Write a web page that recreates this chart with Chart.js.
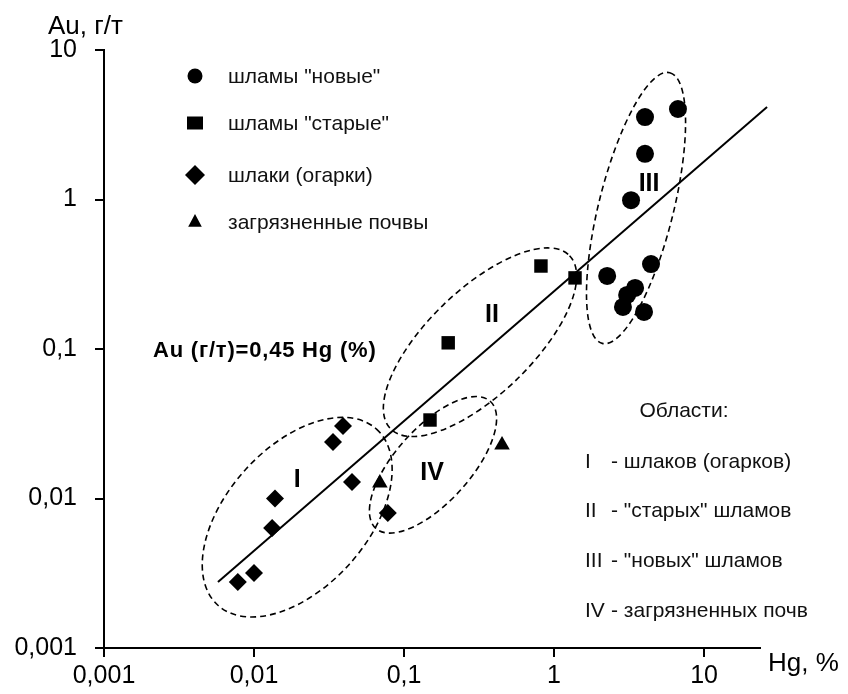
<!DOCTYPE html>
<html>
<head>
<meta charset="utf-8">
<script src="https://cdn.jsdelivr.net/npm/chart.js@4.4.1/dist/chart.umd.min.js"></script>
<style>
  html, body { margin: 0; padding: 0; background: #fff; }
  #chart { display: block; }
</style>
</head>
<body>
<canvas id="chart" width="848" height="694"></canvas>
<script>
// Hg, % (x) and Au, g/t (y)
const newSludgeHg = [4.04, 6.7, 4.04, 3.26, 2.26, 4.43, 3.47, 3.07, 2.88, 3.98];
const newSludgeAu = [3.56, 4.03, 2.02, 0.99, 0.308, 0.37, 0.256, 0.23, 0.191, 0.177];

const oldSludgeHg = [0.149, 0.197, 0.818, 1.38];
const oldSludgeAu = [0.0335, 0.11, 0.359, 0.299];

const slagHg = [0.0078, 0.01, 0.0132, 0.0138, 0.0336, 0.0392, 0.045, 0.078];
const slagAu = [0.00276, 0.00318, 0.00636, 0.01, 0.0239, 0.0305, 0.0129, 0.008];

const soilHg = [0.069, 0.45];
const soilAu = [0.0127, 0.0228];

// regression line end points
const fitHg = [0.00575, 26.3];
const fitAu = [0.00276, 4.16];

const tickValues = [0.001, 0.01, 0.1, 1, 10];

// dashed areas: centre (Hg, Au), semi-axes in decades, tilt in degrees
const areaNames = ['I', 'II', 'III', 'IV'];
const areaHg = [0.0194, 0.321, 3.52, 0.156];
const areaAu = [0.0075, 0.111, 0.877, 0.0168];
const areaMajor = [0.79, 0.83, 0.93, 0.57];
const areaMinor = [0.47, 0.35, 0.25, 0.25];
const areaTilt = [48, 44, 76, 48];
const areaLabelHg = [0.0194, 0.386, 4.3, 0.154];
const areaLabelAu = [0.0133, 0.169, 1.27, 0.0148];

const legendLabels = ['шламы "новые"', 'шламы "старые"', 'шлаки (огарки)', 'загрязненные почвы'];
const areaTitle = 'Области:';
const areaKey = ['- шлаков (огарков)', '- "старых" шламов', '- "новых" шламов', '- загрязненных почв'];

const FONT = '"Liberation Sans", Arial, sans-serif';

function toPoints(xs, ys) {
  return xs.map((x, i) => ({ x: x, y: ys[i] }));
}

function drawMarker(ctx, style, x, y, r) {
  ctx.beginPath();
  if (style === 'circle') {
    ctx.arc(x, y, r, 0, Math.PI * 2);
  } else if (style === 'rect') {
    ctx.rect(x - r * 0.8, y - r * 0.65, r * 1.6, r * 1.3);
  } else if (style === 'rectRot') {
    ctx.moveTo(x - r, y);
    ctx.lineTo(x, y - r);
    ctx.lineTo(x + r, y);
    ctx.lineTo(x, y + r);
  } else if (style === 'triangle') {
    ctx.moveTo(x, y - r);
    ctx.lineTo(x + r * 0.85, y + r * 0.6);
    ctx.lineTo(x - r * 0.85, y + r * 0.6);
  }
  ctx.closePath();
  ctx.fill();
}

const annotations = {
  id: 'annotations',
  beforeDatasetsDraw(chart) {
    const ctx = chart.ctx;
    const xs = chart.scales.x;
    const ys = chart.scales.y;
    const decX = xs.getPixelForValue(10) - xs.getPixelForValue(1);
    const decY = ys.getPixelForValue(1) - ys.getPixelForValue(10);

    ctx.save();
    ctx.strokeStyle = '#000';
    ctx.lineWidth = 1.6;
    ctx.setLineDash([6, 4]);
    areaNames.forEach((name, i) => {
      const cx = xs.getPixelForValue(areaHg[i]);
      const cy = ys.getPixelForValue(areaAu[i]);
      ctx.beginPath();
      ctx.ellipse(cx, cy, areaMajor[i] * decX, areaMinor[i] * decY, -areaTilt[i] * Math.PI / 180, 0, Math.PI * 2);
      ctx.stroke();
    });
    ctx.restore();
  },
  afterDraw(chart) {
    const ctx = chart.ctx;
    const xs = chart.scales.x;
    const ys = chart.scales.y;
    ctx.save();
    ctx.fillStyle = '#000';
    ctx.textBaseline = 'middle';

    // region numerals
    ctx.font = 'bold 25px ' + FONT;
    ctx.textAlign = 'center';
    areaNames.forEach((name, i) => {
      ctx.fillText(name, xs.getPixelForValue(areaLabelHg[i]), ys.getPixelForValue(areaLabelAu[i]));
    });

    // equation
    ctx.font = 'bold 22px ' + FONT;
    ctx.textAlign = 'left';
    ctx.letterSpacing = '0.8px';
    ctx.fillText('Au (г/т)=0,45 Hg (%)', 153, 351);
    ctx.letterSpacing = '0px';

    // axis titles
    ctx.font = '26px ' + FONT;
    ctx.fillText('Au, г/т', 48, 27);
    ctx.fillText('Hg, %', 768, 664);

    // legend
    const styles = ['circle', 'rect', 'rectRot', 'triangle'];
    const sizes = [7.5, 10, 10, 8];
    const rows = [76, 123, 175, 222];
    ctx.font = '21px ' + FONT;
    legendLabels.forEach((label, i) => {
      ctx.fillStyle = '#000';
      drawMarker(ctx, styles[i], 195, rows[i], sizes[i]);
      ctx.fillStyle = '#111';
      ctx.fillText(label, 228, rows[i] + 1);
    });

    // areas key
    ctx.textAlign = 'center';
    ctx.fillText(areaTitle, 684, 411);
    ctx.textAlign = 'left';
    const keyRows = [462, 511, 561, 611];
    areaKey.forEach((t, i) => {
      ctx.fillText(areaNames[i], 585, keyRows[i]);
      ctx.fillText(t, 611, keyRows[i]);
    });
    ctx.restore();
  }
};

const axisStyle = {
  type: 'logarithmic',
  grid: { display: true, drawOnChartArea: false, drawTicks: true, tickLength: 9, color: '#000', lineWidth: 2 },
  border: { display: true, color: '#000', width: 2 },
  ticks: {
    color: '#000',
    font: { family: FONT, size: 25 },
    autoSkip: false,
    maxRotation: 0,
    callback: (v) => String(v).replace('.', ',')
  },
  afterBuildTicks: (scale) => {
    scale.ticks = tickValues.map(v => ({ value: v }));
  }
};

new Chart(document.getElementById('chart'), {
  data: {
    datasets: [
      {
        type: 'line',
        label: 'fit',
        data: toPoints(fitHg, fitAu),
        borderColor: '#000',
        borderWidth: 2,
        pointRadius: 0,
        clip: false
      },
      {
        type: 'scatter',
        label: legendLabels[0],
        data: toPoints(newSludgeHg, newSludgeAu),
        pointStyle: 'circle',
        pointRadius: 9,
        backgroundColor: '#000',
        borderWidth: 0
      },
      {
        type: 'scatter',
        label: legendLabels[1],
        data: toPoints(oldSludgeHg, oldSludgeAu),
        pointStyle: 'rect',
        pointRadius: 9.5,
        backgroundColor: '#000',
        borderWidth: 0
      },
      {
        type: 'scatter',
        label: legendLabels[2],
        data: toPoints(slagHg, slagAu),
        pointStyle: 'rectRot',
        pointRadius: 9,
        backgroundColor: '#000',
        borderWidth: 0
      },
      {
        type: 'scatter',
        label: legendLabels[3],
        data: toPoints(soilHg, soilAu),
        pointStyle: 'triangle',
        pointRadius: 9,
        backgroundColor: '#000',
        borderWidth: 0
      }
    ]
  },
  options: {
    responsive: false,
    animation: false,
    layout: { padding: { top: 50, right: 88, left: 0, bottom: 0 } },
    plugins: {
      legend: { display: false },
      tooltip: { enabled: false }
    },
    scales: {
      x: Object.assign({}, axisStyle, {
        position: 'bottom',
        min: 0.001,
        max: 23.6,
        ticks: Object.assign({}, axisStyle.ticks, { padding: 4 }),
        afterFit: (scale) => { scale.height = 46; }
      }),
      y: Object.assign({}, axisStyle, {
        position: 'left',
        min: 0.001,
        max: 10,
        ticks: Object.assign({}, axisStyle.ticks, { padding: 18 }),
        afterFit: (scale) => { scale.width = 104; }
      })
    }
  },
  plugins: [annotations]
});
</script>
</body>
</html>
